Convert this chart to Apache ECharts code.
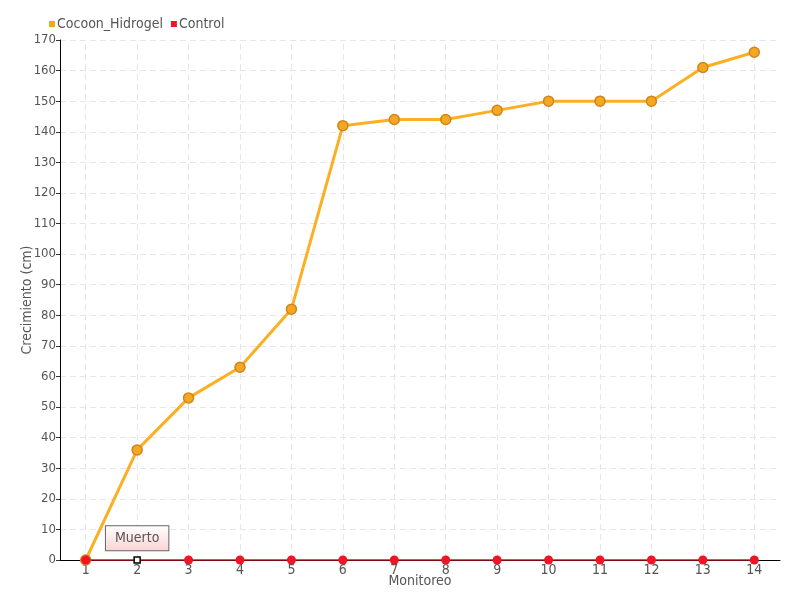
<!DOCTYPE html>
<html><head><meta charset="utf-8">
<script src="https://cdn.jsdelivr.net/npm/echarts@6/dist/echarts.min.js"></script>
<style>html,body{margin:0;padding:0;background:#fff}#c{width:800px;height:600px}</style>
</head><body><div id="c"></div>
<script>
var monitoreo = ['1','2','3','4','5','6','7','8','9','10','11','12','13','14'];
var cocoonValues = [0,36,53,63,82,142,144,144,147,150,150,150,161,166];
var controlValues = [0,0,0,0,0,0,0,0,0,0,0,0,0,0];
var yTicks = {min:0, max:170, interval:10};
var FONT = "'Liberation Sans Narrow','DejaVu Sans Condensed',sans-serif";

var chart = echarts.init(document.getElementById('c'), null, {renderer:'canvas'});
var controlData = controlValues.map(function(v,i){
  var d = {value:v};
  if (i === 1) {
    d.symbol = 'rect'; d.symbolSize = 6;
    d.itemStyle = {color:'#fff', borderColor:'#000', borderWidth:1.5};
    d.label = {
      show:true, position:'top', distance:6, formatter:'Muerto',
      color:'#555', fontFamily:FONT, fontSize:14,
      backgroundColor:{type:'linear',x:0,y:0,x2:0,y2:1,colorStops:[{offset:0,color:'#ffffff'},{offset:1,color:'#fbd3d3'}]},
      borderColor:'#666', borderWidth:1, padding:[5,9,5,9]
    };
  }
  return d;
});
var gridLines = monitoreo.map(function(m){return {xAxis:m};});

chart.setOption({
  animation:false,
  textStyle:{fontFamily:FONT},
  legend:{
    left:44, top:12, itemWidth:6, itemHeight:6, itemGap:8, icon:'rect',
    itemStyle:{borderWidth:0},
    textStyle:{color:'#555', fontFamily:FONT, fontSize:14, padding:[0,0,0,-3]},
    data:['Cocoon_Hidrogel','Control']
  },
  grid:{left:60, right:20, top:40, bottom:40, containLabel:false, outerBoundsMode:'none'},
  xAxis:{
    type:'category', data:monitoreo, boundaryGap:true,
    name:'Monitoreo', nameLocation:'middle', nameGap:14, nameMoveOverlap:false,
    nameTextStyle:{color:'#555', fontFamily:FONT, fontSize:14},
    axisLine:{lineStyle:{color:'#000', width:1}},
    axisTick:{show:false},
    axisLabel:{color:'#555', fontFamily:FONT, fontSize:14, margin:3},
    splitLine:{show:false}
  },
  yAxis:{
    type:'value', min:yTicks.min, max:yTicks.max, interval:yTicks.interval,
    name:'Crecimiento (cm)', nameLocation:'middle', nameGap:26, nameMoveOverlap:false,
    nameTextStyle:{color:'#555', fontFamily:FONT, fontSize:14},
    axisLine:{show:true, lineStyle:{color:'#000', width:1}},
    axisTick:{show:true, length:4, lineStyle:{color:'#333'}},
    axisLabel:{color:'#555', fontFamily:FONT, fontSize:13, margin:4},
    splitLine:{show:true, showMinLine:false, lineStyle:{color:'#e6e6e6', type:[6,4], width:1}}
  },
  series:[
    {
      name:'Cocoon_Hidrogel', type:'line', data:cocoonValues,
      symbol:'circle', symbolSize:10,
      lineStyle:{color:'#fbb024', width:3},
      itemStyle:{color:'#f5a623', borderColor:'#cf8619', borderWidth:1.5},
      z:2,
      markLine:{
        silent:true, symbol:'none', label:{show:false},
        lineStyle:{color:'#e6e6e6', type:[6,4], width:1},
        data:gridLines, z:0
      }
    },
    {
      name:'Control', type:'line', data:controlData,
      symbol:'circle', symbolSize:9,
      lineStyle:{color:'#e0101e', width:1.5},
      itemStyle:{color:'#ee1526', borderColor:'#ee1526', borderWidth:0},
      z:3
    }
  ]
});
</script></body></html>
